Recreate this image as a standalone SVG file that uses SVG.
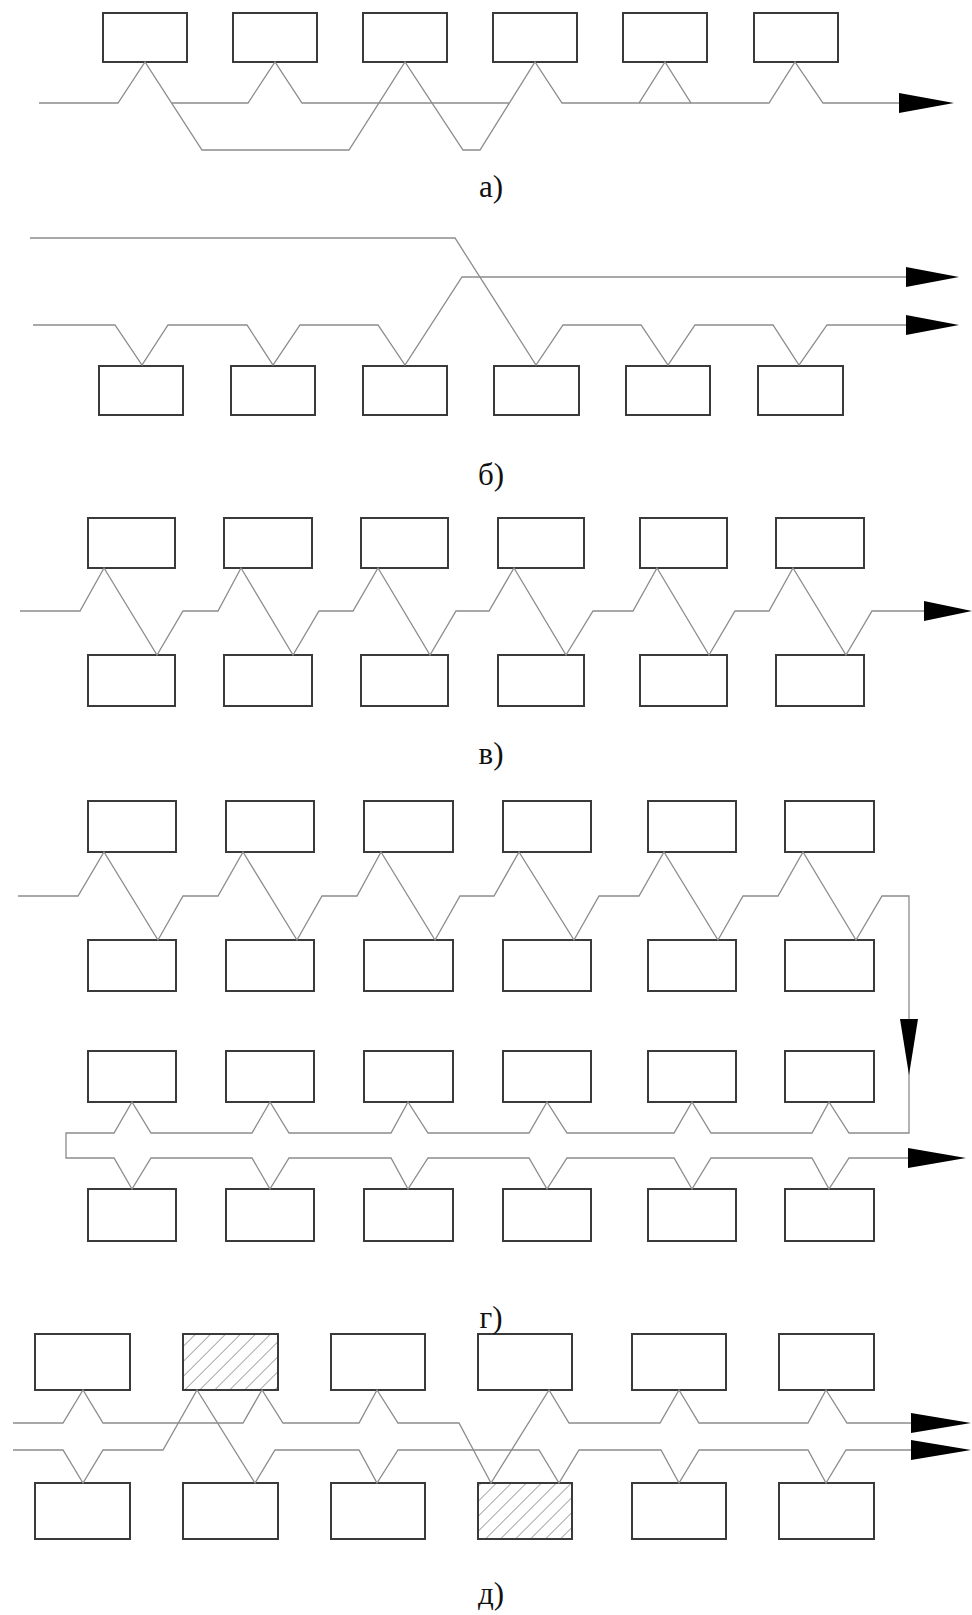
<svg xmlns="http://www.w3.org/2000/svg" width="972" height="1615" viewBox="0 0 972 1615">
<style>
.box{fill:#fff;stroke:#3a3a3a;stroke-width:2}
.hatch{fill:url(#hatch);stroke:#3a3a3a;stroke-width:2}
.ln{fill:none;stroke:#8c8c8c;stroke-width:1.3;stroke-linejoin:miter}
.arr{fill:#000;stroke:none}
.lbl{font-family:"Liberation Serif","DejaVu Serif",serif;font-size:31px;fill:#111;text-anchor:middle}
</style>
<defs>
<pattern id="hatch" patternUnits="userSpaceOnUse" width="10.6" height="10.6" patternTransform="rotate(45)">
<rect width="10.6" height="10.6" fill="#fff"/>
<line x1="0" y1="0" x2="0" y2="10.6" stroke="#6e6e6e" stroke-width="1.2"/>
</pattern>
</defs>

<!-- a) -->
<g id="a-nodes">
<g id="a1"><rect class="box" x="103" y="13" width="84" height="49"/></g>
<g id="a2"><rect class="box" x="233" y="13" width="84" height="49"/></g>
<g id="a3"><rect class="box" x="363" y="13" width="84" height="49"/></g>
<g id="a4"><rect class="box" x="493" y="13" width="84" height="49"/></g>
<g id="a5"><rect class="box" x="623" y="13" width="84" height="49"/></g>
<g id="a6"><rect class="box" x="754" y="13" width="84" height="49"/></g>
</g>
<!-- б) -->
<g id="b-nodes">
<g id="b1"><rect class="box" x="99" y="366" width="84" height="49"/></g>
<g id="b2"><rect class="box" x="231" y="366" width="84" height="49"/></g>
<g id="b3"><rect class="box" x="363" y="366" width="84" height="49"/></g>
<g id="b4"><rect class="box" x="494" y="366" width="85" height="49"/></g>
<g id="b5"><rect class="box" x="626" y="366" width="84" height="49"/></g>
<g id="b6"><rect class="box" x="758" y="366" width="85" height="49"/></g>
</g>
<!-- в) -->
<g id="v-nodes">
<g id="v1"><rect class="box" x="88" y="518" width="87" height="50"/></g>
<g id="v2"><rect class="box" x="224" y="518" width="88" height="50"/></g>
<g id="v3"><rect class="box" x="361" y="518" width="87" height="50"/></g>
<g id="v4"><rect class="box" x="498" y="518" width="86" height="50"/></g>
<g id="v5"><rect class="box" x="640" y="518" width="87" height="50"/></g>
<g id="v6"><rect class="box" x="776" y="518" width="88" height="50"/></g>
<g id="v7"><rect class="box" x="88" y="655" width="87" height="51"/></g>
<g id="v8"><rect class="box" x="224" y="655" width="88" height="51"/></g>
<g id="v9"><rect class="box" x="361" y="655" width="87" height="51"/></g>
<g id="v10"><rect class="box" x="498" y="655" width="86" height="51"/></g>
<g id="v11"><rect class="box" x="640" y="655" width="87" height="51"/></g>
<g id="v12"><rect class="box" x="776" y="655" width="88" height="51"/></g>
</g>
<!-- г) -->
<g id="g-nodes">
<g id="g1"><rect class="box" x="88" y="801" width="88" height="51"/></g>
<g id="g2"><rect class="box" x="226" y="801" width="88" height="51"/></g>
<g id="g3"><rect class="box" x="364" y="801" width="89" height="51"/></g>
<g id="g4"><rect class="box" x="503" y="801" width="88" height="51"/></g>
<g id="g5"><rect class="box" x="648" y="801" width="88" height="51"/></g>
<g id="g6"><rect class="box" x="785" y="801" width="89" height="51"/></g>
<g id="g7"><rect class="box" x="88" y="940" width="88" height="51"/></g>
<g id="g8"><rect class="box" x="226" y="940" width="88" height="51"/></g>
<g id="g9"><rect class="box" x="364" y="940" width="89" height="51"/></g>
<g id="g10"><rect class="box" x="503" y="940" width="88" height="51"/></g>
<g id="g11"><rect class="box" x="648" y="940" width="88" height="51"/></g>
<g id="g12"><rect class="box" x="785" y="940" width="89" height="51"/></g>
<g id="g13"><rect class="box" x="88" y="1051" width="88" height="51"/></g>
<g id="g14"><rect class="box" x="226" y="1051" width="88" height="51"/></g>
<g id="g15"><rect class="box" x="364" y="1051" width="89" height="51"/></g>
<g id="g16"><rect class="box" x="503" y="1051" width="88" height="51"/></g>
<g id="g17"><rect class="box" x="648" y="1051" width="88" height="51"/></g>
<g id="g18"><rect class="box" x="785" y="1051" width="89" height="51"/></g>
<g id="g19"><rect class="box" x="88" y="1189" width="88" height="52"/></g>
<g id="g20"><rect class="box" x="226" y="1189" width="88" height="52"/></g>
<g id="g21"><rect class="box" x="364" y="1189" width="89" height="52"/></g>
<g id="g22"><rect class="box" x="503" y="1189" width="88" height="52"/></g>
<g id="g23"><rect class="box" x="648" y="1189" width="88" height="52"/></g>
<g id="g24"><rect class="box" x="785" y="1189" width="89" height="52"/></g>
</g>
<!-- д) -->
<g id="d-nodes">
<g id="d1"><rect class="box" x="35" y="1334" width="95" height="56"/></g>
<g id="d2"><rect class="hatch" x="183" y="1334" width="95" height="56"/></g>
<g id="d3"><rect class="box" x="331" y="1334" width="94" height="56"/></g>
<g id="d4"><rect class="box" x="478" y="1334" width="94" height="56"/></g>
<g id="d5"><rect class="box" x="632" y="1334" width="94" height="56"/></g>
<g id="d6"><rect class="box" x="779" y="1334" width="95" height="56"/></g>
<g id="d7"><rect class="box" x="35" y="1483" width="95" height="56"/></g>
<g id="d8"><rect class="box" x="183" y="1483" width="95" height="56"/></g>
<g id="d9"><rect class="box" x="331" y="1483" width="94" height="56"/></g>
<g id="d10"><rect class="hatch" x="478" y="1483" width="94" height="56"/></g>
<g id="d11"><rect class="box" x="632" y="1483" width="94" height="56"/></g>
<g id="d12"><rect class="box" x="779" y="1483" width="95" height="56"/></g>
</g>

<g id="connectors">
<!-- a -->
<polyline class="ln" points="39,103 118,103 145,62 202,150 349,150 405,62 463,150 480,150 535,62 562,103 639,103 665,62 691,103 769,103 795,62 823,103 900,103"/>
<polyline class="ln" points="639,103 691,103"/>
<polyline class="ln" points="172,103 248,103 275,62 302,103 509,103"/>
<polygon class="arr" points="899,93 954,103 899,113"/>
<!-- б -->
<polyline class="ln" points="30,238 455,238 536,365 563,325 641,325 668,365 695,325 773,325 799,365 827,325 907,325"/>
<polyline class="ln" points="33,325 115,325 142,365 168,325 247,325 273,365 300,325 378,325 405,365 462,277 907,277"/>
<polygon class="arr" points="906,267 959,277 906,287"/>
<polygon class="arr" points="906,315 959,325 906,335"/>
<!-- в -->
<polyline class="ln" points="20,611 80,611 104,568 157,655 183,611 218,611 241,568 293,655 319,611 353,611 378,568 430,655 456,611 489,611 514,568 566,655 593,611 633,611 657,568 709,655 735,611 769,611 793,568 846,655 872,611 925,611"/>
<polygon class="arr" points="924,601 972,611 924,621"/>
<!-- г -->
<polyline class="ln" points="18,896 78,896 104,852 158,940 183,896 218,896 243,852 297,940 322,896 357,896 381,852 435,940 460,896 494,896 519,852 574,940 599,896 639,896 664,852 718,940 743,896 778,896 803,852 856,940 882,896 909,896 909,1133 849,1133 829,1102 812,1133 711,1133 692,1102 674,1133 567,1133 547,1102 529,1133 428,1133 408,1102 391,1133 289,1133 270,1102 252,1133 151,1133 132,1102 114,1133 66,1133 66,1158 114,1158 132,1189 151,1158 252,1158 270,1189 289,1158 391,1158 408,1189 428,1158 529,1158 547,1189 567,1158 674,1158 692,1189 711,1158 812,1158 829,1189 849,1158 909,1158"/>
<polygon class="arr" points="900,1019 918,1019 909,1075"/>
<polygon class="arr" points="908,1148 966,1158 908,1168"/>
<!-- д -->
<polyline class="ln" points="13,1423 63,1423 83,1390 103,1423 243,1423 262,1390 283,1423 359,1423 377,1390 398,1423 459,1423 491,1483 549,1390 569,1423 660,1423 679,1390 699,1423 808,1423 826,1390 847,1423 912,1423"/>
<polyline class="ln" points="13,1450 63,1450 83,1483 103,1450 163,1450 197,1390 255,1483 275,1450 359,1450 377,1483 398,1450 539,1450 559,1483 579,1450 661,1450 679,1483 699,1450 808,1450 826,1483 846,1450 912,1450"/>
<polygon class="arr" points="911,1413 971,1423 911,1433"/>
<polygon class="arr" points="911,1440 971,1450 911,1460"/>
</g>

<g id="labels">
<text class="lbl" x="491" y="197">а)</text>
<text class="lbl" x="491" y="485">б)</text>
<text class="lbl" x="491" y="764">в)</text>
<text class="lbl" x="491" y="1328">г)</text>
<text class="lbl" x="491" y="1604">д)</text>
</g>
</svg>
